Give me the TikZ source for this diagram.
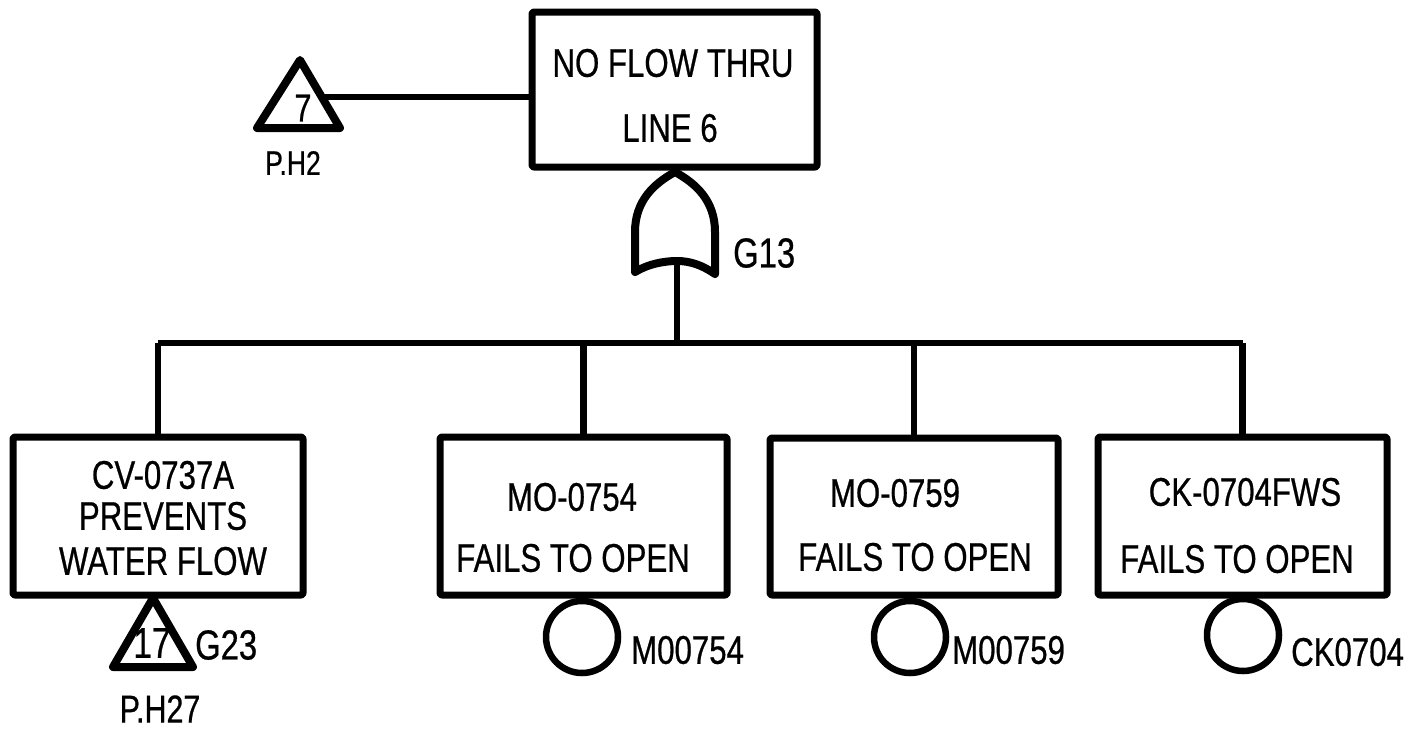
\documentclass[tikz,border=0pt]{standalone}
\usepackage{fontspec}
\setmainfont{Liberation Sans}[FakeStretch=0.78,FakeBold=0.6]
\begin{document}
\begin{tikzpicture}[x=1pt,y=-1pt,line join=round,
  box/.style={draw,line width=7pt,rounded corners=2pt,inner sep=0pt,outer sep=0pt},
  txt/.style={font=\fontsize{40}{48}\selectfont,inner sep=0pt},
  lbl/.style={font=\fontsize{40}{48}\selectfont,inner sep=0pt,anchor=west},
  refl/.style={font=\fontsize{34}{40}\selectfont,inner sep=0pt},
  wire/.style={line width=6.5pt},
  sym/.style={line width=8pt},
  evt/.style={draw,circle,line width=6.5pt,minimum size=72pt,inner sep=0pt,outer sep=0pt}]
\useasboundingbox (0,0) rectangle (1410,732);

% top event
\node[box,minimum width=285pt,minimum height=155pt] (top) at (674.5,89.5) {};
\node[txt] (topA) at (673,63) {NO FLOW THRU};
\node[txt] (topB) at (670,128) {LINE 6};

% transfer triangle 7
\coordinate (t1a) at (300,60);
\coordinate (t1l) at (257,128);
\coordinate (t1r) at (340,128);
\coordinate (t1e) at (322,97);
\draw[sym] (t1a) -- (t1r) -- (t1l) -- cycle;
\node[txt,font=\fontsize{39}{44}\selectfont] (t1n) at (303,108) {7};
\node[refl] (t1p) at (293,163) {P.H2};
\draw[wire] (t1e) -- (t1e -| top.west);

% OR gate
\coordinate (g) at (675,172);
\coordinate (gb) at (677,261);
\draw[sym] (635,272) -- (635,232) .. controls (635,200) and (655,183) .. (g)
  .. controls (695,183) and (715,200) .. (715,232) -- (715,274)
  .. controls (702,265) and (690,261) .. (gb)
  .. controls (664,261) and (648,264) .. (635,272) -- cycle;
\node[lbl,font=\fontsize{42}{48}\selectfont] (g13) at (733,253) {G13};
\coordinate (bus) at (677,343);
\draw[wire] (gb) -- (bus);

% bottom boxes
\node[box,minimum width=290pt,minimum height=158pt] (b1) at (158,516) {};
\node[box,minimum width=287pt,minimum height=158pt] (b2) at (583.5,516) {};
\node[box,minimum width=288pt,minimum height=157pt] (b3) at (914,516.5) {};
\node[box,minimum width=289pt,minimum height=158pt] (b4) at (1242.5,516) {};

\draw[wire] (b1.north |- bus) -- (b4.north |- bus);
\draw[wire] (b1.north |- bus) -- (b1.north);
\draw[wire] (b2.north |- bus) -- (b2.north);
\draw[wire] (b3.north |- bus) -- (b3.north);
\draw[wire] (b4.north |- bus) -- (b4.north);

\node[txt] (b1a) at (163,475) {CV-0737A};
\node[txt] (b1b) at (163,516) {PREVENTS};
\node[txt] (b1c) at (163,561) {WATER FLOW};

\node[txt] (b2a) at (572,497) {MO-0754};
\node[txt] (b2b) at (573,558) {FAILS TO OPEN};

\node[txt] (b3a) at (895,493) {MO-0759};
\node[txt] (b3b) at (915,557) {FAILS TO OPEN};

\node[txt] (b4a) at (1245,492) {CK-0704FWS};
\node[txt] (b4b) at (1237,559) {FAILS TO OPEN};

% transfer triangle 17
\coordinate (t2a) at (153,598);
\coordinate (t2l) at (113,667);
\coordinate (t2r) at (193,667);
\draw[sym] (t2a) -- (t2r) -- (t2l) -- cycle;
\node[txt,font=\fontsize{43}{48}\selectfont] (t2n) at (152,643) {17};
\node[lbl,font=\fontsize{42}{48}\selectfont] (g23) at (195,645) {G23};
\node[refl,font=\fontsize{39}{44}\selectfont] (t2p) at (160,709) {P.H27};

% basic events
\node[evt] (c1) at (582,637) {};
\node[evt] (c2) at (910,637) {};
\node[evt] (c3) at (1243,635) {};
\node[lbl] (c1l) at (631,650) {M00754};
\node[lbl] (c2l) at (952,650) {M00759};
\node[lbl] (c3l) at (1291,652) {CK0704};
\end{tikzpicture}
\end{document}
